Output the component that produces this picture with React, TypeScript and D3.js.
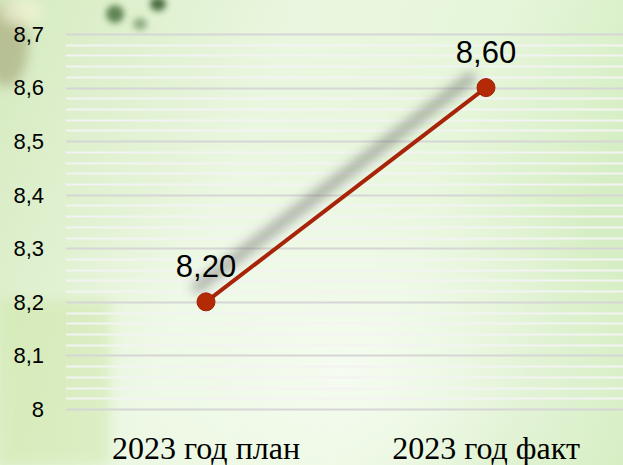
import React from "react";
import * as d3 from "d3";

const categories = ["2023 год план", "2023 год факт"];
const values = [8.2, 8.6];
const valueLabels = ["8,20", "8,60"];
const yTicks = [8, 8.1, 8.2, 8.3, 8.4, 8.5, 8.6, 8.7];

export default function App() {
  const W = 623, H = 465;
  const left = 66, right = 626, top = 34, bottom = 409;
  const x = d3.scaleBand<string>().domain(categories).range([left, right]);
  const y = d3.scaleLinear().domain([8, 8.7]).range([bottom, top]);
  const minor = d3.range(0, 36).map((i) => 8 + i * 0.02);
  const fmt = (v: number) => (v === 8 ? "8" : d3.format(".1f")(v).replace(".", ","));
  const pts = categories.map((c, i) => [x(c)! + x.bandwidth() / 2, y(values[i])] as [number, number]);
  const line = d3.line()(pts) || "";
  return (
    <svg width={W} height={H} style={{ position: "absolute", left: 0, top: 0 }}>
      <defs>
        <linearGradient id="bg" x1="0" y1="0" x2="1" y2="0.3">
          <stop offset="0" stopColor="#d5eabf" />
          <stop offset="0.45" stopColor="#eaf7e0" />
          <stop offset="0.75" stopColor="#e6f6da" />
          <stop offset="1" stopColor="#d6eec4" />
        </linearGradient>
        <radialGradient id="glow" cx="0.55" cy="0.8" r="0.5">
          <stop offset="0" stopColor="#f6fcf1" stopOpacity="0.95" />
          <stop offset="1" stopColor="#f6fcf1" stopOpacity="0" />
        </radialGradient>
        <filter id="blur" x="-50%" y="-50%" width="200%" height="200%">
          <feGaussianBlur stdDeviation="6" />
        </filter>
        <filter id="blur2" x="-50%" y="-50%" width="200%" height="200%">
          <feGaussianBlur stdDeviation="3" />
        </filter>
      </defs>
      <rect width={W} height={H} fill="url(#bg)" />
      <rect width={W} height={H} fill="url(#glow)" />
      <rect x={0} y={300} width={110} height={165} fill="#cfe6a8" opacity={0.5} filter="url(#blur)" />
      <ellipse cx={6} cy={45} rx={22} ry={42} fill="#a3a276" opacity={0.6} filter="url(#blur)" />
      <ellipse cx={22} cy={12} rx={22} ry={14} fill="#f2f3d4" opacity={0.7} filter="url(#blur)" />
      <ellipse cx={115} cy={14} rx={9} ry={9} fill="#3f6a35" opacity={0.8} filter="url(#blur2)" />
      <ellipse cx={158} cy={4} rx={8} ry={7} fill="#2f5526" opacity={0.85} filter="url(#blur2)" />
      <ellipse cx={140} cy={24} rx={7} ry={6} fill="#5c7e52" opacity={0.6} filter="url(#blur2)" />
      {minor.map((v, i) => (
        <line key={"m" + i} x1={left} x2={W} y1={Math.round(y(v)) + 0.5} y2={Math.round(y(v)) + 0.5}
          stroke={i % 5 === 0 ? "#d6d6d6" : "#f3f3f3"} strokeWidth={2} />
      ))}
      {yTicks.map((t) => (
        <text key={t} x={44} y={y(t)} dy="0.36em" textAnchor="end" fontFamily="Arial, 'Liberation Sans'" fontSize={22} fill="#000">
          {fmt(t)}
        </text>
      ))}
      {categories.map((c) => (
        <text key={c} x={x(c)! + x.bandwidth() / 2} y={459} textAnchor="middle" fontFamily="'Times New Roman', 'Liberation Serif', serif" fontSize={32} fill="#000">
          {c}
        </text>
      ))}
      <path d={line} transform="translate(-12,-12)" stroke="#555" strokeWidth={10} fill="none" opacity={0.5} filter="url(#blur)" />
      <path d={line} stroke="#a82408" strokeWidth={4} fill="none" />
      {pts.map((p, i) => (
        <circle key={i} cx={p[0]} cy={p[1]} r={9} fill="#b52a06" stroke="#a02005" strokeWidth={1} />
      ))}
      {pts.map((p, i) => (
        <text key={"l" + i} x={p[0]} y={p[1] - 25} textAnchor="middle" fontFamily="Arial, 'Liberation Sans'" fontSize={31} fill="#000">
          {valueLabels[i]}
        </text>
      ))}
    </svg>
  );
}
